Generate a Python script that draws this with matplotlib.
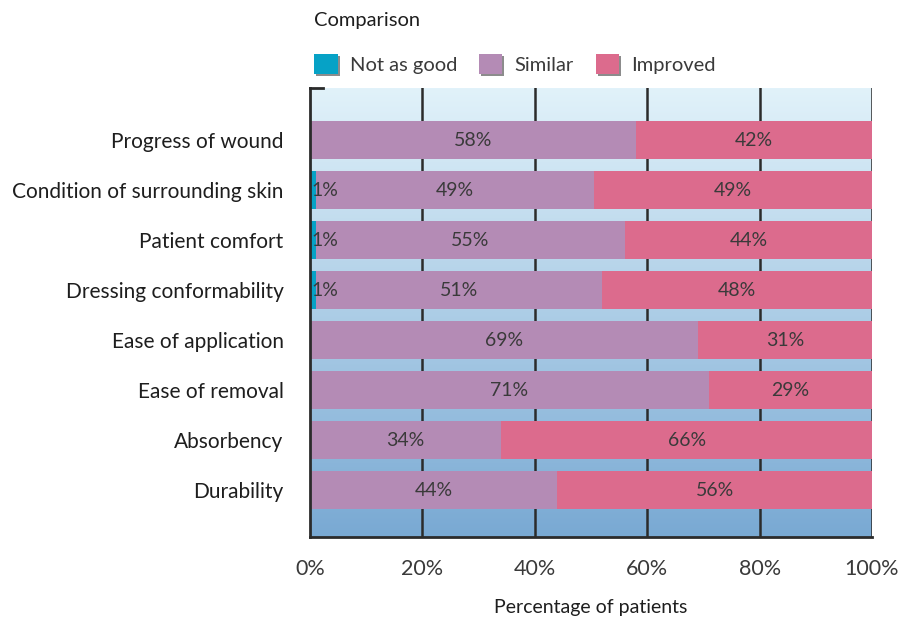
import matplotlib
matplotlib.use('Agg')
import matplotlib.pyplot as plt
import matplotlib.patheffects as pe
from matplotlib.patches import Patch
import numpy as np

plt.rcParams['font.family'] = ['Lato', 'DejaVu Sans']

categories = ['Progress of wound', 'Condition of surrounding skin', 'Patient comfort',
              'Dressing conformability', 'Ease of application', 'Ease of removal',
              'Absorbency', 'Durability']
not_as_good = [0, 1, 1, 1, 0, 0, 0, 0]
similar = [58, 49, 55, 51, 69, 71, 34, 44]
improved = [42, 49, 44, 48, 31, 29, 66, 56]
series_names = ['Not as good', 'Similar', 'Improved']
xticks = [0, 20, 40, 60, 80, 100]

colors = ['#06a2c6', '#b48bb5', '#dc6b8d']
txt_col = '#3a3a3a'

vals = np.array([not_as_good, similar, improved], dtype=float)
# bars are scaled so each row fills 100%
shares = vals / vals.sum(axis=0) * 100

fig = plt.figure(figsize=(9.06, 6.23), dpi=100)
ax = fig.add_axes([0.3422, 0.138, 0.6203, 0.7207])

ytop, ybot = -1.04, 7.94
# background gradient light -> dark blue
grad = np.linspace(0, 1, 256).reshape(-1, 1)
c_top = np.array([225, 242, 250]) / 255.
c_bot = np.array([121, 169, 211]) / 255.
img = c_top + (c_bot - c_top) * grad[:, :, None]
ax.imshow(img, extent=[0, 100, ybot, ytop], aspect='auto', zorder=0)

for x in xticks[1:]:
    ax.axvline(x, color='#2b2b2b', lw=1.8, zorder=1)

y = np.arange(len(categories))
left = np.zeros(len(categories))
for i in range(3):
    ax.barh(y, shares[i], left=left, height=0.76, color=colors[i], zorder=2)
    for j in range(len(categories)):
        if vals[i, j] <= 0:
            continue
        lab = '%d%%' % vals[i, j]
        if shares[i, j] < 5:
            ax.text(left[j] + 0.2, y[j], lab, ha='left', va='center',
                    fontsize=14, color=txt_col, zorder=3)
        else:
            ax.text(left[j] + shares[i, j] / 2, y[j], lab, ha='center', va='center',
                    fontsize=14, color=txt_col, zorder=3)
    left += shares[i]

ax.set_xlim(0, 100)
ax.set_ylim(ybot, ytop)
ax.set_yticks(y)
ax.set_yticklabels(categories, fontsize=15, color='#1e1e1e')
ax.set_xticks(xticks)
ax.set_xticklabels(['%d%%' % v for v in xticks], fontsize=15.5, color=txt_col)
ax.tick_params(axis='y', length=0, pad=19)
ax.tick_params(axis='x', length=0, pad=16)
ax.set_xlabel('Percentage of patients', fontsize=14, color='#1e1e1e', labelpad=14)

for s in ['left', 'bottom', 'top']:
    ax.spines[s].set_color('#2b2b2b')
    ax.spines[s].set_linewidth(2)
    ax.spines[s].set_zorder(4)
ax.spines['right'].set_visible(False)
ax.spines['top'].set_bounds(0, 2.3)

handles = [Patch(facecolor=c, edgecolor='none',
                 path_effects=[pe.withSimplePatchShadow(offset=(1.5, -1.5), shadow_rgbFace='k', alpha=0.45), pe.Normal()])
           for c in colors]
leg = fig.legend(handles, series_names, title='Comparison', ncol=3, frameon=False,
                 loc='upper left', bbox_to_anchor=(0.327, 1.01), alignment='left',
                 fontsize=14.5, title_fontsize=14.5, handlelength=1.15, handleheight=1.15,
                 handletextpad=0.6, columnspacing=1.1, labelspacing=1.25, labelcolor=txt_col)
leg.get_title().set_color('#1e1e1e')

fig.savefig('out.png', dpi=100)
